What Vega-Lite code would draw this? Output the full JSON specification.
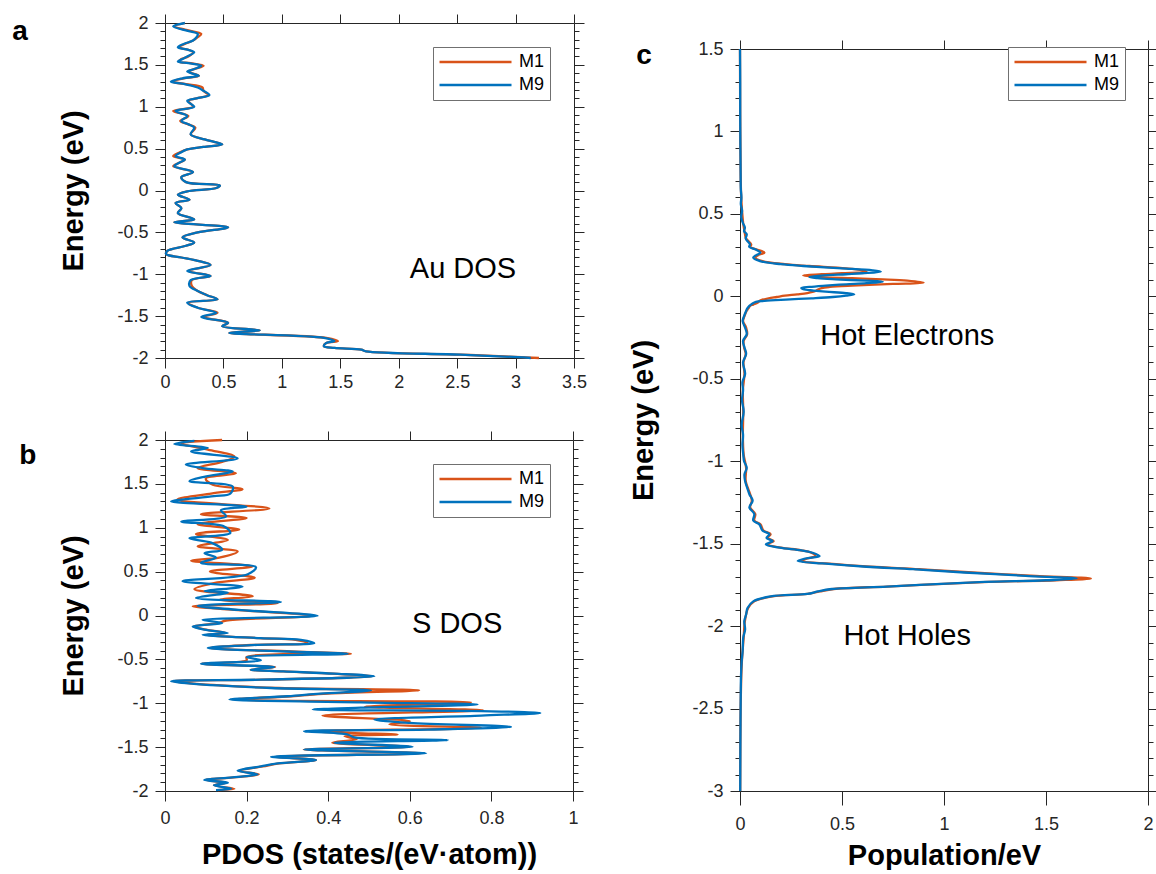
{
  "$schema": "https://vega.github.io/schema/vega-lite/v6.json",
  "background": "white",
  "padding": {"left": 12, "top": 13, "right": 0, "bottom": 0},
  "config": {
    "font": "Liberation Sans",
    "view": {"stroke": null},
    "axis": {"domainColor": "#262626", "tickColor": "#262626", "labelColor": "#262626", "titleColor": "#000000", "labelFont": "Liberation Sans", "labelFontSize": 18, "titleFont": "Liberation Sans", "titleFontSize": 29, "titleFontWeight": "bold", "grid": false, "labelFlush": false, "labelOverlap": false, "domainWidth": 1, "tickWidth": 1},
    "line": {"strokeWidth": 2.3, "interpolate": "catmull-rom"}
  },
  "datasets": {
    "a": [
      {"s":"M9","E":2.0,"v":0.17},{"s":"M9","E":1.96,"v":0.07},{"s":"M9","E":1.92,"v":0.15},{"s":"M9","E":1.87,"v":0.28},{"s":"M9","E":1.83,"v":0.27},{"s":"M9","E":1.79,"v":0.24},{"s":"M9","E":1.75,"v":0.16},{"s":"M9","E":1.71,"v":0.11},{"s":"M9","E":1.68,"v":0.2},{"s":"M9","E":1.65,"v":0.25},{"s":"M9","E":1.6,"v":0.19},{"s":"M9","E":1.57,"v":0.15},{"s":"M9","E":1.54,"v":0.11},{"s":"M9","E":1.52,"v":0.2},{"s":"M9","E":1.49,"v":0.31},{"s":"M9","E":1.45,"v":0.25},{"s":"M9","E":1.42,"v":0.19},{"s":"M9","E":1.37,"v":0.29},{"s":"M9","E":1.34,"v":0.15},{"s":"M9","E":1.3,"v":0.05},{"s":"M9","E":1.27,"v":0.17},{"s":"M9","E":1.23,"v":0.28},{"s":"M9","E":1.19,"v":0.33},{"s":"M9","E":1.14,"v":0.38},{"s":"M9","E":1.1,"v":0.27},{"s":"M9","E":1.07,"v":0.19},{"s":"M9","E":1.0,"v":0.25},{"s":"M9","E":0.95,"v":0.09},{"s":"M9","E":0.89,"v":0.19},{"s":"M9","E":0.83,"v":0.14},{"s":"M9","E":0.79,"v":0.2},{"s":"M9","E":0.75,"v":0.25},{"s":"M9","E":0.67,"v":0.22},{"s":"M9","E":0.61,"v":0.34},{"s":"M9","E":0.58,"v":0.42},{"s":"M9","E":0.55,"v":0.49},{"s":"M9","E":0.52,"v":0.33},{"s":"M9","E":0.49,"v":0.19},{"s":"M9","E":0.45,"v":0.13},{"s":"M9","E":0.41,"v":0.09},{"s":"M9","E":0.37,"v":0.17},{"s":"M9","E":0.33,"v":0.12},{"s":"M9","E":0.29,"v":0.08},{"s":"M9","E":0.22,"v":0.24},{"s":"M9","E":0.16,"v":0.14},{"s":"M9","E":0.1,"v":0.18},{"s":"M9","E":0.06,"v":0.47},{"s":"M9","E":0.03,"v":0.44},{"s":"M9","E":-0.01,"v":0.19},{"s":"M9","E":-0.05,"v":0.11},{"s":"M9","E":-0.11,"v":0.21},{"s":"M9","E":-0.15,"v":0.09},{"s":"M9","E":-0.21,"v":0.14},{"s":"M9","E":-0.27,"v":0.11},{"s":"M9","E":-0.345,"v":0.25},{"s":"M9","E":-0.38,"v":0.08},{"s":"M9","E":-0.44,"v":0.54},{"s":"M9","E":-0.5,"v":0.28},{"s":"M9","E":-0.56,"v":0.15},{"s":"M9","E":-0.62,"v":0.25},{"s":"M9","E":-0.66,"v":0.18},{"s":"M9","E":-0.72,"v":0.02},{"s":"M9","E":-0.76,"v":0.01},{"s":"M9","E":-0.8,"v":0.14},{"s":"M9","E":-0.84,"v":0.28},{"s":"M9","E":-0.89,"v":0.39},{"s":"M9","E":-0.96,"v":0.19},{"s":"M9","E":-1.02,"v":0.39},{"s":"M9","E":-1.07,"v":0.22},{"s":"M9","E":-1.14,"v":0.21},{"s":"M9","E":-1.2,"v":0.28},{"s":"M9","E":-1.25,"v":0.36},{"s":"M9","E":-1.3,"v":0.45},{"s":"M9","E":-1.34,"v":0.19},{"s":"M9","E":-1.4,"v":0.28},{"s":"M9","E":-1.46,"v":0.44},{"s":"M9","E":-1.51,"v":0.31},{"s":"M9","E":-1.58,"v":0.54},{"s":"M9","E":-1.62,"v":0.49},{"s":"M9","E":-1.67,"v":0.81},{"s":"M9","E":-1.7,"v":0.55},{"s":"M9","E":-1.76,"v":1.36},{"s":"M9","E":-1.8,"v":1.45},{"s":"M9","E":-1.82,"v":1.38},{"s":"M9","E":-1.86,"v":1.36},{"s":"M9","E":-1.88,"v":1.45},{"s":"M9","E":-1.9,"v":1.68},{"s":"M9","E":-1.92,"v":1.72},{"s":"M9","E":-1.96,"v":2.53},{"s":"M9","E":-1.99,"v":3.02},{"s":"M9","E":-2.0,"v":3.13},
      {"s":"M1","E":2.0,"v":0.17},{"s":"M1","E":1.96,"v":0.08},{"s":"M1","E":1.92,"v":0.17},{"s":"M1","E":1.87,"v":0.31},{"s":"M1","E":1.83,"v":0.28},{"s":"M1","E":1.79,"v":0.24},{"s":"M1","E":1.75,"v":0.17},{"s":"M1","E":1.71,"v":0.12},{"s":"M1","E":1.68,"v":0.2},{"s":"M1","E":1.65,"v":0.24},{"s":"M1","E":1.6,"v":0.2},{"s":"M1","E":1.57,"v":0.14},{"s":"M1","E":1.54,"v":0.12},{"s":"M1","E":1.52,"v":0.22},{"s":"M1","E":1.49,"v":0.33},{"s":"M1","E":1.45,"v":0.25},{"s":"M1","E":1.42,"v":0.2},{"s":"M1","E":1.37,"v":0.29},{"s":"M1","E":1.34,"v":0.16},{"s":"M1","E":1.3,"v":0.06},{"s":"M1","E":1.27,"v":0.18},{"s":"M1","E":1.23,"v":0.32},{"s":"M1","E":1.19,"v":0.33},{"s":"M1","E":1.14,"v":0.37},{"s":"M1","E":1.1,"v":0.27},{"s":"M1","E":1.07,"v":0.2},{"s":"M1","E":1.0,"v":0.24},{"s":"M1","E":0.95,"v":0.07},{"s":"M1","E":0.89,"v":0.2},{"s":"M1","E":0.83,"v":0.13},{"s":"M1","E":0.79,"v":0.2},{"s":"M1","E":0.75,"v":0.26},{"s":"M1","E":0.67,"v":0.22},{"s":"M1","E":0.61,"v":0.34},{"s":"M1","E":0.58,"v":0.42},{"s":"M1","E":0.55,"v":0.49},{"s":"M1","E":0.52,"v":0.33},{"s":"M1","E":0.49,"v":0.19},{"s":"M1","E":0.45,"v":0.12},{"s":"M1","E":0.41,"v":0.07},{"s":"M1","E":0.37,"v":0.17},{"s":"M1","E":0.33,"v":0.12},{"s":"M1","E":0.29,"v":0.07},{"s":"M1","E":0.22,"v":0.24},{"s":"M1","E":0.16,"v":0.14},{"s":"M1","E":0.1,"v":0.18},{"s":"M1","E":0.06,"v":0.47},{"s":"M1","E":0.03,"v":0.44},{"s":"M1","E":-0.01,"v":0.19},{"s":"M1","E":-0.05,"v":0.11},{"s":"M1","E":-0.11,"v":0.21},{"s":"M1","E":-0.15,"v":0.09},{"s":"M1","E":-0.21,"v":0.14},{"s":"M1","E":-0.27,"v":0.11},{"s":"M1","E":-0.345,"v":0.25},{"s":"M1","E":-0.38,"v":0.08},{"s":"M1","E":-0.44,"v":0.54},{"s":"M1","E":-0.5,"v":0.28},{"s":"M1","E":-0.56,"v":0.15},{"s":"M1","E":-0.62,"v":0.25},{"s":"M1","E":-0.66,"v":0.18},{"s":"M1","E":-0.72,"v":0.02},{"s":"M1","E":-0.76,"v":0.01},{"s":"M1","E":-0.8,"v":0.14},{"s":"M1","E":-0.84,"v":0.28},{"s":"M1","E":-0.89,"v":0.39},{"s":"M1","E":-0.96,"v":0.2},{"s":"M1","E":-1.02,"v":0.39},{"s":"M1","E":-1.07,"v":0.23},{"s":"M1","E":-1.14,"v":0.23},{"s":"M1","E":-1.2,"v":0.28},{"s":"M1","E":-1.25,"v":0.36},{"s":"M1","E":-1.3,"v":0.45},{"s":"M1","E":-1.34,"v":0.2},{"s":"M1","E":-1.4,"v":0.28},{"s":"M1","E":-1.46,"v":0.45},{"s":"M1","E":-1.51,"v":0.33},{"s":"M1","E":-1.58,"v":0.54},{"s":"M1","E":-1.62,"v":0.49},{"s":"M1","E":-1.67,"v":0.81},{"s":"M1","E":-1.7,"v":0.55},{"s":"M1","E":-1.76,"v":1.38},{"s":"M1","E":-1.8,"v":1.48},{"s":"M1","E":-1.82,"v":1.38},{"s":"M1","E":-1.86,"v":1.36},{"s":"M1","E":-1.88,"v":1.45},{"s":"M1","E":-1.9,"v":1.68},{"s":"M1","E":-1.92,"v":1.72},{"s":"M1","E":-1.96,"v":2.53},{"s":"M1","E":-1.99,"v":3.05},{"s":"M1","E":-2.0,"v":3.2}
    ],
    "b": [
      {"s":"M9","E":1.99,"v":0.072},{"s":"M9","E":1.955,"v":0.023},{"s":"M9","E":1.91,"v":0.105},{"s":"M9","E":1.87,"v":0.064},{"s":"M9","E":1.79,"v":0.178},{"s":"M9","E":1.72,"v":0.051},{"s":"M9","E":1.68,"v":0.092},{"s":"M9","E":1.64,"v":0.166},{"s":"M9","E":1.58,"v":0.096},{"s":"M9","E":1.53,"v":0.06},{"s":"M9","E":1.47,"v":0.166},{"s":"M9","E":1.39,"v":0.16},{"s":"M9","E":1.36,"v":0.12},{"s":"M9","E":1.3,"v":0.015},{"s":"M9","E":1.24,"v":0.2},{"s":"M9","E":1.2,"v":0.137},{"s":"M9","E":1.13,"v":0.15},{"s":"M9","E":1.07,"v":0.04},{"s":"M9","E":1.015,"v":0.145},{"s":"M9","E":0.94,"v":0.16},{"s":"M9","E":0.88,"v":0.06},{"s":"M9","E":0.83,"v":0.113},{"s":"M9","E":0.75,"v":0.14},{"s":"M9","E":0.71,"v":0.097},{"s":"M9","E":0.66,"v":0.125},{"s":"M9","E":0.6,"v":0.088},{"s":"M9","E":0.55,"v":0.223},{"s":"M9","E":0.47,"v":0.203},{"s":"M9","E":0.39,"v":0.043},{"s":"M9","E":0.33,"v":0.19},{"s":"M9","E":0.28,"v":0.097},{"s":"M9","E":0.26,"v":0.154},{"s":"M9","E":0.2,"v":0.076},{"s":"M9","E":0.155,"v":0.284},{"s":"M9","E":0.11,"v":0.08},{"s":"M9","E":0.064,"v":0.18},{"s":"M9","E":-0.004,"v":0.374},{"s":"M9","E":-0.05,"v":0.092},{"s":"M9","E":-0.087,"v":0.14},{"s":"M9","E":-0.125,"v":0.068},{"s":"M9","E":-0.16,"v":0.096},{"s":"M9","E":-0.2,"v":0.154},{"s":"M9","E":-0.22,"v":0.092},{"s":"M9","E":-0.258,"v":0.235},{"s":"M9","E":-0.277,"v":0.333},{"s":"M9","E":-0.315,"v":0.366},{"s":"M9","E":-0.334,"v":0.227},{"s":"M9","E":-0.37,"v":0.105},{"s":"M9","E":-0.41,"v":0.3},{"s":"M9","E":-0.436,"v":0.448},{"s":"M9","E":-0.474,"v":0.2},{"s":"M9","E":-0.51,"v":0.235},{"s":"M9","E":-0.55,"v":0.088},{"s":"M9","E":-0.587,"v":0.268},{"s":"M9","E":-0.618,"v":0.21},{"s":"M9","E":-0.637,"v":0.29},{"s":"M9","E":-0.663,"v":0.415},{"s":"M9","E":-0.693,"v":0.513},{"s":"M9","E":-0.731,"v":0.235},{"s":"M9","E":-0.75,"v":0.015},{"s":"M9","E":-0.777,"v":0.064},{"s":"M9","E":-0.826,"v":0.26},{"s":"M9","E":-0.853,"v":0.505},{"s":"M9","E":-0.89,"v":0.38},{"s":"M9","E":-0.92,"v":0.3},{"s":"M9","E":-0.958,"v":0.158},{"s":"M9","E":-0.989,"v":0.48},{"s":"M9","E":-1.015,"v":0.766},{"s":"M9","E":-1.05,"v":0.48},{"s":"M9","E":-1.072,"v":0.362},{"s":"M9","E":-1.09,"v":0.775},{"s":"M9","E":-1.11,"v":0.92},{"s":"M9","E":-1.14,"v":0.775},{"s":"M9","E":-1.186,"v":0.513},{"s":"M9","E":-1.224,"v":0.6},{"s":"M9","E":-1.27,"v":0.848},{"s":"M9","E":-1.3,"v":0.644},{"s":"M9","E":-1.318,"v":0.341},{"s":"M9","E":-1.356,"v":0.448},{"s":"M9","E":-1.39,"v":0.464},{"s":"M9","E":-1.42,"v":0.693},{"s":"M9","E":-1.45,"v":0.415},{"s":"M9","E":-1.496,"v":0.607},{"s":"M9","E":-1.527,"v":0.341},{"s":"M9","E":-1.57,"v":0.64},{"s":"M9","E":-1.61,"v":0.26},{"s":"M9","E":-1.647,"v":0.37},{"s":"M9","E":-1.686,"v":0.276},{"s":"M9","E":-1.72,"v":0.235},{"s":"M9","E":-1.77,"v":0.178},{"s":"M9","E":-1.81,"v":0.227},{"s":"M9","E":-1.837,"v":0.186},{"s":"M9","E":-1.875,"v":0.096},{"s":"M9","E":-1.905,"v":0.154},{"s":"M9","E":-1.935,"v":0.12},{"s":"M9","E":-1.974,"v":0.162},{"s":"M9","E":-1.99,"v":0.125},
      {"s":"M1","E":2.0,"v":0.14},{"s":"M1","E":1.96,"v":0.04},{"s":"M1","E":1.89,"v":0.105},{"s":"M1","E":1.81,"v":0.17},{"s":"M1","E":1.75,"v":0.14},{"s":"M1","E":1.68,"v":0.08},{"s":"M1","E":1.62,"v":0.174},{"s":"M1","E":1.56,"v":0.1},{"s":"M1","E":1.49,"v":0.117},{"s":"M1","E":1.44,"v":0.19},{"s":"M1","E":1.39,"v":0.113},{"s":"M1","E":1.32,"v":0.03},{"s":"M1","E":1.22,"v":0.256},{"s":"M1","E":1.155,"v":0.088},{"s":"M1","E":1.11,"v":0.2},{"s":"M1","E":1.04,"v":0.08},{"s":"M1","E":0.98,"v":0.182},{"s":"M1","E":0.93,"v":0.076},{"s":"M1","E":0.86,"v":0.154},{"s":"M1","E":0.79,"v":0.08},{"s":"M1","E":0.73,"v":0.178},{"s":"M1","E":0.66,"v":0.133},{"s":"M1","E":0.625,"v":0.064},{"s":"M1","E":0.56,"v":0.215},{"s":"M1","E":0.5,"v":0.11},{"s":"M1","E":0.43,"v":0.22},{"s":"M1","E":0.37,"v":0.12},{"s":"M1","E":0.3,"v":0.072},{"s":"M1","E":0.22,"v":0.215},{"s":"M1","E":0.18,"v":0.133},{"s":"M1","E":0.14,"v":0.276},{"s":"M1","E":0.105,"v":0.068},{"s":"M1","E":0.064,"v":0.17},{"s":"M1","E":-0.004,"v":0.36},{"s":"M1","E":-0.057,"v":0.15},{"s":"M1","E":-0.087,"v":0.13},{"s":"M1","E":-0.125,"v":0.07},{"s":"M1","E":-0.16,"v":0.1},{"s":"M1","E":-0.2,"v":0.15},{"s":"M1","E":-0.22,"v":0.1},{"s":"M1","E":-0.258,"v":0.23},{"s":"M1","E":-0.277,"v":0.32},{"s":"M1","E":-0.315,"v":0.35},{"s":"M1","E":-0.334,"v":0.22},{"s":"M1","E":-0.37,"v":0.11},{"s":"M1","E":-0.41,"v":0.31},{"s":"M1","E":-0.436,"v":0.456},{"s":"M1","E":-0.474,"v":0.2},{"s":"M1","E":-0.51,"v":0.2},{"s":"M1","E":-0.55,"v":0.09},{"s":"M1","E":-0.587,"v":0.27},{"s":"M1","E":-0.618,"v":0.21},{"s":"M1","E":-0.637,"v":0.29},{"s":"M1","E":-0.663,"v":0.41},{"s":"M1","E":-0.693,"v":0.51},{"s":"M1","E":-0.731,"v":0.24},{"s":"M1","E":-0.75,"v":0.02},{"s":"M1","E":-0.777,"v":0.07},{"s":"M1","E":-0.826,"v":0.28},{"s":"M1","E":-0.853,"v":0.623},{"s":"M1","E":-0.89,"v":0.4},{"s":"M1","E":-0.92,"v":0.31},{"s":"M1","E":-0.958,"v":0.17},{"s":"M1","E":-0.99,"v":0.75},{"s":"M1","E":-1.04,"v":0.49},{"s":"M1","E":-1.08,"v":0.78},{"s":"M1","E":-1.14,"v":0.386},{"s":"M1","E":-1.205,"v":0.6},{"s":"M1","E":-1.24,"v":0.55},{"s":"M1","E":-1.28,"v":0.775},{"s":"M1","E":-1.318,"v":0.36},{"s":"M1","E":-1.34,"v":0.464},{"s":"M1","E":-1.356,"v":0.57},{"s":"M1","E":-1.375,"v":0.44},{"s":"M1","E":-1.41,"v":0.47},{"s":"M1","E":-1.45,"v":0.41},{"s":"M1","E":-1.496,"v":0.6},{"s":"M1","E":-1.527,"v":0.34},{"s":"M1","E":-1.57,"v":0.63},{"s":"M1","E":-1.61,"v":0.27},{"s":"M1","E":-1.647,"v":0.37},{"s":"M1","E":-1.686,"v":0.28},{"s":"M1","E":-1.72,"v":0.24},{"s":"M1","E":-1.77,"v":0.18},{"s":"M1","E":-1.81,"v":0.23},{"s":"M1","E":-1.837,"v":0.19},{"s":"M1","E":-1.875,"v":0.1},{"s":"M1","E":-1.905,"v":0.15},{"s":"M1","E":-1.935,"v":0.12},{"s":"M1","E":-1.974,"v":0.17},{"s":"M1","E":-1.99,"v":0.13}
    ],
    "c": [
      {"s":"M9","E":1.5,"v":0.0},{"s":"M9","E":1.3,"v":0.001},{"s":"M9","E":1.1,"v":0.001},{"s":"M9","E":0.9,"v":0.002},{"s":"M9","E":0.75,"v":0.003},{"s":"M9","E":0.65,"v":0.004},{"s":"M9","E":0.6,"v":0.007},{"s":"M9","E":0.56,"v":0.004},{"s":"M9","E":0.52,"v":0.01},{"s":"M9","E":0.48,"v":0.006},{"s":"M9","E":0.44,"v":0.016},{"s":"M9","E":0.417,"v":0.024},{"s":"M9","E":0.395,"v":0.02},{"s":"M9","E":0.376,"v":0.033},{"s":"M9","E":0.35,"v":0.028},{"s":"M9","E":0.33,"v":0.04},{"s":"M9","E":0.315,"v":0.049},{"s":"M9","E":0.3,"v":0.045},{"s":"M9","E":0.285,"v":0.074},{"s":"M9","E":0.265,"v":0.1},{"s":"M9","E":0.25,"v":0.08},{"s":"M9","E":0.235,"v":0.065},{"s":"M9","E":0.214,"v":0.098},{"s":"M9","E":0.195,"v":0.2},{"s":"M9","E":0.184,"v":0.31},{"s":"M9","E":0.17,"v":0.5},{"s":"M9","E":0.158,"v":0.65},{"s":"M9","E":0.15,"v":0.69},{"s":"M9","E":0.14,"v":0.6},{"s":"M9","E":0.134,"v":0.52},{"s":"M9","E":0.125,"v":0.4},{"s":"M9","E":0.117,"v":0.34},{"s":"M9","E":0.11,"v":0.38},{"s":"M9","E":0.103,"v":0.47},{"s":"M9","E":0.095,"v":0.62},{"s":"M9","E":0.089,"v":0.7},{"s":"M9","E":0.08,"v":0.62},{"s":"M9","E":0.073,"v":0.52},{"s":"M9","E":0.065,"v":0.42},{"s":"M9","E":0.057,"v":0.34},{"s":"M9","E":0.05,"v":0.3},{"s":"M9","E":0.043,"v":0.31},{"s":"M9","E":0.035,"v":0.36},{"s":"M9","E":0.028,"v":0.42},{"s":"M9","E":0.02,"v":0.52},{"s":"M9","E":0.012,"v":0.56},{"s":"M9","E":0.004,"v":0.52},{"s":"M9","E":-0.004,"v":0.455},{"s":"M9","E":-0.012,"v":0.35},{"s":"M9","E":-0.02,"v":0.225},{"s":"M9","E":-0.028,"v":0.12},{"s":"M9","E":-0.034,"v":0.078},{"s":"M9","E":-0.045,"v":0.06},{"s":"M9","E":-0.058,"v":0.046},{"s":"M9","E":-0.075,"v":0.035},{"s":"M9","E":-0.089,"v":0.03},{"s":"M9","E":-0.12,"v":0.02},{"s":"M9","E":-0.15,"v":0.013},{"s":"M9","E":-0.19,"v":0.025},{"s":"M9","E":-0.23,"v":0.033},{"s":"M9","E":-0.27,"v":0.015},{"s":"M9","E":-0.31,"v":0.022},{"s":"M9","E":-0.35,"v":0.03},{"s":"M9","E":-0.4,"v":0.015},{"s":"M9","E":-0.47,"v":0.025},{"s":"M9","E":-0.52,"v":0.012},{"s":"M9","E":-0.57,"v":0.015},{"s":"M9","E":-0.63,"v":0.01},{"s":"M9","E":-0.7,"v":0.018},{"s":"M9","E":-0.78,"v":0.008},{"s":"M9","E":-0.84,"v":0.015},{"s":"M9","E":-0.9,"v":0.012},{"s":"M9","E":-0.96,"v":0.016},{"s":"M9","E":-1.0,"v":0.02},{"s":"M9","E":-1.04,"v":0.033},{"s":"M9","E":-1.08,"v":0.022},{"s":"M9","E":-1.12,"v":0.025},{"s":"M9","E":-1.16,"v":0.035},{"s":"M9","E":-1.2,"v":0.046},{"s":"M9","E":-1.24,"v":0.062},{"s":"M9","E":-1.28,"v":0.046},{"s":"M9","E":-1.32,"v":0.07},{"s":"M9","E":-1.36,"v":0.065},{"s":"M9","E":-1.383,"v":0.095},{"s":"M9","E":-1.42,"v":0.11},{"s":"M9","E":-1.443,"v":0.144},{"s":"M9","E":-1.465,"v":0.13},{"s":"M9","E":-1.484,"v":0.16},{"s":"M9","E":-1.504,"v":0.127},{"s":"M9","E":-1.524,"v":0.193},{"s":"M9","E":-1.54,"v":0.3},{"s":"M9","E":-1.555,"v":0.356},{"s":"M9","E":-1.575,"v":0.39},{"s":"M9","E":-1.59,"v":0.32},{"s":"M9","E":-1.605,"v":0.283},{"s":"M9","E":-1.62,"v":0.405},{"s":"M9","E":-1.64,"v":0.62},{"s":"M9","E":-1.655,"v":0.85},{"s":"M9","E":-1.675,"v":1.1},{"s":"M9","E":-1.695,"v":1.4},{"s":"M9","E":-1.712,"v":1.65},{"s":"M9","E":-1.722,"v":1.5},{"s":"M9","E":-1.732,"v":1.2},{"s":"M9","E":-1.745,"v":0.96},{"s":"M9","E":-1.76,"v":0.72},{"s":"M9","E":-1.775,"v":0.45},{"s":"M9","E":-1.79,"v":0.38},{"s":"M9","E":-1.805,"v":0.33},{"s":"M9","E":-1.82,"v":0.15},{"s":"M9","E":-1.85,"v":0.065},{"s":"M9","E":-1.89,"v":0.037},{"s":"M9","E":-1.93,"v":0.03},{"s":"M9","E":-1.97,"v":0.021},{"s":"M9","E":-2.02,"v":0.025},{"s":"M9","E":-2.07,"v":0.016},{"s":"M9","E":-2.15,"v":0.013},{"s":"M9","E":-2.22,"v":0.008},{"s":"M9","E":-2.3,"v":0.005},{"s":"M9","E":-2.5,"v":0.003},{"s":"M9","E":-2.7,"v":0.002},{"s":"M9","E":-3.0,"v":0.001},
      {"s":"M1","E":1.5,"v":0.0},{"s":"M1","E":1.1,"v":0.001},{"s":"M1","E":0.75,"v":0.003},{"s":"M1","E":0.6,"v":0.006},{"s":"M1","E":0.52,"v":0.01},{"s":"M1","E":0.44,"v":0.016},{"s":"M1","E":0.395,"v":0.022},{"s":"M1","E":0.35,"v":0.03},{"s":"M1","E":0.315,"v":0.055},{"s":"M1","E":0.3,"v":0.05},{"s":"M1","E":0.285,"v":0.08},{"s":"M1","E":0.265,"v":0.12},{"s":"M1","E":0.25,"v":0.09},{"s":"M1","E":0.235,"v":0.075},{"s":"M1","E":0.214,"v":0.11},{"s":"M1","E":0.195,"v":0.22},{"s":"M1","E":0.184,"v":0.34},{"s":"M1","E":0.17,"v":0.52},{"s":"M1","E":0.158,"v":0.6},{"s":"M1","E":0.15,"v":0.62},{"s":"M1","E":0.14,"v":0.5},{"s":"M1","E":0.134,"v":0.4},{"s":"M1","E":0.127,"v":0.31},{"s":"M1","E":0.117,"v":0.4},{"s":"M1","E":0.11,"v":0.55},{"s":"M1","E":0.103,"v":0.7},{"s":"M1","E":0.095,"v":0.82},{"s":"M1","E":0.083,"v":0.9},{"s":"M1","E":0.075,"v":0.75},{"s":"M1","E":0.065,"v":0.55},{"s":"M1","E":0.057,"v":0.44},{"s":"M1","E":0.05,"v":0.4},{"s":"M1","E":0.04,"v":0.38},{"s":"M1","E":0.032,"v":0.37},{"s":"M1","E":0.02,"v":0.33},{"s":"M1","E":0.012,"v":0.28},{"s":"M1","E":0.004,"v":0.22},{"s":"M1","E":-0.004,"v":0.18},{"s":"M1","E":-0.012,"v":0.14},{"s":"M1","E":-0.02,"v":0.11},{"s":"M1","E":-0.028,"v":0.095},{"s":"M1","E":-0.038,"v":0.087},{"s":"M1","E":-0.05,"v":0.065},{"s":"M1","E":-0.058,"v":0.05},{"s":"M1","E":-0.075,"v":0.04},{"s":"M1","E":-0.089,"v":0.032},{"s":"M1","E":-0.12,"v":0.022},{"s":"M1","E":-0.15,"v":0.015},{"s":"M1","E":-0.19,"v":0.03},{"s":"M1","E":-0.23,"v":0.035},{"s":"M1","E":-0.27,"v":0.018},{"s":"M1","E":-0.31,"v":0.02},{"s":"M1","E":-0.35,"v":0.028},{"s":"M1","E":-0.4,"v":0.017},{"s":"M1","E":-0.47,"v":0.022},{"s":"M1","E":-0.57,"v":0.014},{"s":"M1","E":-0.7,"v":0.016},{"s":"M1","E":-0.84,"v":0.014},{"s":"M1","E":-0.96,"v":0.018},{"s":"M1","E":-1.04,"v":0.03},{"s":"M1","E":-1.12,"v":0.028},{"s":"M1","E":-1.2,"v":0.05},{"s":"M1","E":-1.24,"v":0.058},{"s":"M1","E":-1.28,"v":0.05},{"s":"M1","E":-1.32,"v":0.075},{"s":"M1","E":-1.36,"v":0.07},{"s":"M1","E":-1.383,"v":0.1},{"s":"M1","E":-1.42,"v":0.115},{"s":"M1","E":-1.443,"v":0.15},{"s":"M1","E":-1.465,"v":0.135},{"s":"M1","E":-1.484,"v":0.165},{"s":"M1","E":-1.504,"v":0.135},{"s":"M1","E":-1.524,"v":0.2},{"s":"M1","E":-1.54,"v":0.3},{"s":"M1","E":-1.555,"v":0.35},{"s":"M1","E":-1.575,"v":0.37},{"s":"M1","E":-1.59,"v":0.33},{"s":"M1","E":-1.605,"v":0.3},{"s":"M1","E":-1.62,"v":0.42},{"s":"M1","E":-1.64,"v":0.64},{"s":"M1","E":-1.655,"v":0.88},{"s":"M1","E":-1.675,"v":1.14},{"s":"M1","E":-1.695,"v":1.45},{"s":"M1","E":-1.712,"v":1.72},{"s":"M1","E":-1.722,"v":1.55},{"s":"M1","E":-1.732,"v":1.22},{"s":"M1","E":-1.745,"v":0.97},{"s":"M1","E":-1.76,"v":0.72},{"s":"M1","E":-1.775,"v":0.46},{"s":"M1","E":-1.79,"v":0.39},{"s":"M1","E":-1.805,"v":0.33},{"s":"M1","E":-1.82,"v":0.16},{"s":"M1","E":-1.85,"v":0.07},{"s":"M1","E":-1.89,"v":0.04},{"s":"M1","E":-1.97,"v":0.024},{"s":"M1","E":-2.07,"v":0.018},{"s":"M1","E":-2.22,"v":0.009},{"s":"M1","E":-2.5,"v":0.003},{"s":"M1","E":-3.0,"v":0.001}
    ]
  },
  "resolve": {"scale": {"color": "independent"}, "legend": {"color": "independent"}},
  "spacing": 42,
  "hconcat": [
    {
      "vconcat": [
        {
          "width": 409, "height": 335,
          "data": {"name": "a"},
          "resolve": {"axis": {"x": "independent", "y": "independent"}},
          "layer": [
            {
              "transform": [{"filter": "datum.s == 'M1'"}],
              "mark": {"type": "line"},
              "encoding": {
                "x": {"field": "v", "type": "quantitative", "scale": {"domain": [0, 3.5], "nice": false, "zero": false},
                      "axis": {"orient": "bottom", "values": [0, 0.5, 1, 1.5, 2, 2.5, 3, 3.5], "title": null, "labelExpr": "'' + datum.value", "tickSize": 10, "labelPadding": 5}},
                "y": {"field": "E", "type": "quantitative", "scale": {"domain": [-2, 2], "nice": false, "zero": false},
                      "axis": {"orient": "left", "tickCount": 40, "title": "Energy (eV)", "titlePadding": 28,
                               "labelExpr": "abs(datum.value*2 - round(datum.value*2)) < 0.000001 ? '' + round(datum.value*10)/10 : ''",
                               "tickSize": {"condition": {"test": "abs(datum.value*2 - round(datum.value*2)) < 0.000001", "value": 10}, "value": 5}, "labelPadding": 7}},
                "color": {"field": "s", "type": "nominal", "scale": {"domain": ["M1", "M9"], "range": ["#D95319", "#0072BD"]},
                          "legend": {"orient": "none", "legendX": 268, "legendY": 24, "title": null, "symbolType": "stroke", "symbolSize": 5184, "symbolStrokeWidth": 2, "labelFontSize": 18, "labelFont": "Liberation Sans", "labelColor": "#000000", "padding": 5, "strokeColor": "#707070", "fillColor": "white", "clipHeight": 20, "rowPadding": 3, "labelOffset": 6}},
                "order": {"field": "E", "type": "quantitative", "sort": "descending"}
              }
            },
            {
              "transform": [{"filter": "datum.s == 'M9'"}],
              "mark": {"type": "line"},
              "encoding": {
                "x": {"field": "v", "type": "quantitative", "axis": {"orient": "top", "values": [0, 0.5, 1, 1.5, 2, 2.5, 3, 3.5], "title": null, "labels": false, "tickSize": 9}},
                "y": {"field": "E", "type": "quantitative", "axis": {"orient": "right", "tickCount": 40, "title": null, "labels": false,
                               "tickSize": {"condition": {"test": "abs(datum.value*2 - round(datum.value*2)) < 0.000001", "value": 10}, "value": 5}}},
                "color": {"field": "s", "type": "nominal"},
                "order": {"field": "E", "type": "quantitative", "sort": "descending"}
              }
            },
            {
              "data": {"values": [{"t": "Au DOS"}]},
              "mark": {"type": "text", "fontSize": 29, "font": "Liberation Sans", "color": "#000000"},
              "encoding": {"x": {"datum": 2.55, "type": "quantitative", "axis": null}, "y": {"datum": -0.94, "type": "quantitative", "axis": null}, "text": {"field": "t"}}
            },
            {
              "data": {"values": [{"t": "a"}]},
              "mark": {"type": "text", "fontSize": 28, "fontWeight": "bold", "font": "Liberation Sans", "color": "#000000"},
              "encoding": {"x": {"datum": -1.24, "type": "quantitative", "axis": null}, "y": {"datum": 1.89, "type": "quantitative", "axis": null}, "text": {"field": "t"}}
            }
          ]
        },
        {
          "width": 408, "height": 351,
          "data": {"name": "b"},
          "resolve": {"axis": {"x": "independent", "y": "independent"}},
          "layer": [
            {
              "transform": [{"filter": "datum.s == 'M1'"}],
              "mark": {"type": "line"},
              "encoding": {
                "x": {"field": "v", "type": "quantitative", "scale": {"domain": [0, 1], "nice": false, "zero": false},
                      "axis": {"orient": "bottom", "values": [0, 0.2, 0.4, 0.6, 0.8, 1], "title": "PDOS (states/(eV·atom))", "titlePadding": 13, "labelExpr": "'' + datum.value", "tickSize": 10, "labelPadding": 8}},
                "y": {"field": "E", "type": "quantitative", "scale": {"domain": [-2, 2], "nice": false, "zero": false},
                      "axis": {"orient": "left", "tickCount": 40, "title": "Energy (eV)", "titlePadding": 28,
                               "labelExpr": "abs(datum.value*2 - round(datum.value*2)) < 0.000001 ? '' + round(datum.value*10)/10 : ''",
                               "tickSize": {"condition": {"test": "abs(datum.value*2 - round(datum.value*2)) < 0.000001", "value": 10}, "value": 5}, "labelPadding": 7}},
                "color": {"field": "s", "type": "nominal", "scale": {"domain": ["M1", "M9"], "range": ["#D95319", "#0072BD"]},
                          "legend": {"orient": "none", "legendX": 268, "legendY": 24, "title": null, "symbolType": "stroke", "symbolSize": 5184, "symbolStrokeWidth": 2, "labelFontSize": 18, "labelFont": "Liberation Sans", "labelColor": "#000000", "padding": 5, "strokeColor": "#707070", "fillColor": "white", "clipHeight": 20, "rowPadding": 3, "labelOffset": 6}},
                "order": {"field": "E", "type": "quantitative", "sort": "descending"}
              }
            },
            {
              "transform": [{"filter": "datum.s == 'M9'"}],
              "mark": {"type": "line"},
              "encoding": {
                "x": {"field": "v", "type": "quantitative", "axis": {"orient": "top", "values": [0, 0.2, 0.4, 0.6, 0.8, 1], "title": null, "labels": false, "tickSize": 9}},
                "y": {"field": "E", "type": "quantitative", "axis": {"orient": "right", "tickCount": 40, "title": null, "labels": false,
                               "tickSize": {"condition": {"test": "abs(datum.value*2 - round(datum.value*2)) < 0.000001", "value": 10}, "value": 5}}},
                "color": {"field": "s", "type": "nominal"},
                "order": {"field": "E", "type": "quantitative", "sort": "descending"}
              }
            },
            {
              "data": {"values": [{"t": "S DOS"}]},
              "mark": {"type": "text", "fontSize": 29, "font": "Liberation Sans", "color": "#000000"},
              "encoding": {"x": {"datum": 0.716, "type": "quantitative", "axis": null}, "y": {"datum": -0.1, "type": "quantitative", "axis": null}, "text": {"field": "t"}}
            },
            {
              "data": {"values": [{"t": "b"}]},
              "mark": {"type": "text", "fontSize": 28, "fontWeight": "bold", "font": "Liberation Sans", "color": "#000000"},
              "encoding": {"x": {"datum": -0.336, "type": "quantitative", "axis": null}, "y": {"datum": 1.82, "type": "quantitative", "axis": null}, "text": {"field": "t"}}
            }
          ]
        }
      ],
      "spacing": 82,
      "bounds": "flush",
      "resolve": {"scale": {"color": "independent"}, "legend": {"color": "independent"}}
    },
    {
      "vconcat": [
        {
          "width": 408, "height": 1,
          "data": {"values": [{"t": ""}]},
          "mark": {"type": "text"},
          "encoding": {"text": {"field": "t"}}
        },
        {
          "width": 408, "height": 742,
          "data": {"name": "c"},
          "resolve": {"axis": {"x": "independent", "y": "independent"}},
          "layer": [
            {
              "transform": [{"filter": "datum.s == 'M1'"}],
              "mark": {"type": "line"},
              "encoding": {
                "x": {"field": "v", "type": "quantitative", "scale": {"domain": [0, 2], "nice": false, "zero": false},
                      "axis": {"orient": "bottom", "values": [0, 0.5, 1, 1.5, 2], "title": "Population/eV", "titlePadding": 8, "labelExpr": "'' + datum.value", "tickSize": 14, "labelPadding": 10}},
                "y": {"field": "E", "type": "quantitative", "scale": {"domain": [-3, 1.5], "nice": false, "zero": false},
                      "axis": {"orient": "left", "tickCount": 45, "title": "Energy (eV)", "titlePadding": 33,
                               "labelExpr": "abs(datum.value*2 - round(datum.value*2)) < 0.000001 ? '' + round(datum.value*10)/10 : ''",
                               "tickSize": {"condition": {"test": "abs(datum.value*2 - round(datum.value*2)) < 0.000001", "value": 10}, "value": 5}, "labelPadding": 7}},
                "color": {"field": "s", "type": "nominal", "scale": {"domain": ["M1", "M9"], "range": ["#D95319", "#0072BD"]},
                          "legend": {"orient": "none", "legendX": 268, "legendY": 24, "title": null, "symbolType": "stroke", "symbolSize": 5184, "symbolStrokeWidth": 2, "labelFontSize": 18, "labelFont": "Liberation Sans", "labelColor": "#000000", "padding": 5, "strokeColor": "#707070", "fillColor": "white", "clipHeight": 20, "rowPadding": 3, "labelOffset": 6}},
                "order": {"field": "E", "type": "quantitative", "sort": "descending"}
              }
            },
            {
              "transform": [{"filter": "datum.s == 'M9'"}],
              "mark": {"type": "line"},
              "encoding": {
                "x": {"field": "v", "type": "quantitative", "axis": {"orient": "top", "values": [0, 0.5, 1, 1.5, 2], "title": null, "labels": false, "tickSize": 9}},
                "y": {"field": "E", "type": "quantitative", "axis": {"orient": "right", "tickCount": 45, "title": null, "labels": false,
                               "tickSize": {"condition": {"test": "abs(datum.value*2 - round(datum.value*2)) < 0.000001", "value": 10}, "value": 5}}},
                "color": {"field": "s", "type": "nominal"},
                "order": {"field": "E", "type": "quantitative", "sort": "descending"}
              }
            },
            {
              "data": {"values": [{"t": "Hot Electrons", "k": 1}, {"t": "Hot Holes", "k": 2}]},
              "transform": [{"filter": "datum.k == 1"}],
              "mark": {"type": "text", "fontSize": 29, "font": "Liberation Sans", "color": "#000000"},
              "encoding": {"x": {"datum": 0.82, "type": "quantitative", "axis": null}, "y": {"datum": -0.24, "type": "quantitative", "axis": null}, "text": {"field": "t"}}
            },
            {
              "data": {"values": [{"t": "Hot Electrons", "k": 1}, {"t": "Hot Holes", "k": 2}]},
              "transform": [{"filter": "datum.k == 2"}],
              "mark": {"type": "text", "fontSize": 29, "font": "Liberation Sans", "color": "#000000"},
              "encoding": {"x": {"datum": 0.82, "type": "quantitative", "axis": null}, "y": {"datum": -2.06, "type": "quantitative", "axis": null}, "text": {"field": "t"}}
            },
            {
              "data": {"values": [{"t": "c"}]},
              "mark": {"type": "text", "fontSize": 28, "fontWeight": "bold", "font": "Liberation Sans", "color": "#000000"},
              "encoding": {"x": {"datum": -0.47, "type": "quantitative", "axis": null}, "y": {"datum": 1.46, "type": "quantitative", "axis": null}, "text": {"field": "t"}}
            }
          ]
        }
      ],
      "spacing": 25,
      "bounds": "flush"
    }
  ]
}
